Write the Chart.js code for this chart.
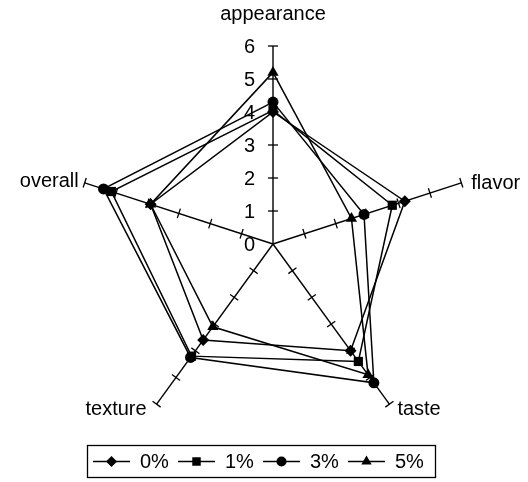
<!DOCTYPE html>
<html>
<head>
<meta charset="utf-8">
<script src="https://cdn.jsdelivr.net/npm/chart.js@4"></script>
<style>
  body { margin: 0; background: #fff; }
  canvas { display: block; }
</style>
</head>
<body>
<canvas id="radar" width="528" height="482"></canvas>
<script>
// Datos
const categories = ['appearance', 'flavor', 'taste', 'texture', 'overall'];
const seriesNames = ['0%', '1%', '3%', '5%'];
const values0 = [4.0, 4.2, 4.0, 3.6, 3.9];
const values1 = [4.05, 3.8, 4.4, 4.2, 5.15];
const values3 = [4.3, 2.9, 5.2, 4.25, 5.4];
const values5 = [5.2, 2.5, 4.9, 3.1, 3.9];
const tickLabels = ['0', '1', '2', '3', '4', '5', '6'];

const markers = ['rectRot', 'rect', 'circle', 'triangle'];
const markerSizes = [6, 6.5, 5.5, 6.5];
const FONT = '20px "Liberation Sans", Arial, sans-serif';

function makeSet(i, vals) {
  return {
    label: seriesNames[i],
    data: vals,
    borderColor: '#000',
    backgroundColor: '#000',
    borderWidth: 1.5,
    fill: false,
    pointStyle: markers[i],
    pointRadius: markerSizes[i],
    pointBackgroundColor: '#000',
    pointBorderColor: '#000',
    pointBorderWidth: 0
  };
}

// Marcas, etiquetas y leyenda dibujadas a mano
const extras = {
  id: 'extras',
  beforeDatasetsDraw(chart) {
    const s = chart.scales.r;
    const ctx = chart.ctx;
    ctx.save();
    ctx.strokeStyle = '#000';
    ctx.lineWidth = 1.3;
    for (let i = 0; i < categories.length; i++) {
      const a = s.getIndexAngle(i) - Math.PI / 2;
      const px = -Math.sin(a), py = Math.cos(a);
      for (let v = 1; v < tickLabels.length; v++) {
        const p = s.getPointPosition(i, s.getDistanceFromCenterForValue(v));
        ctx.beginPath();
        ctx.moveTo(p.x - px * 5, p.y - py * 5);
        ctx.lineTo(p.x + px * 5, p.y + py * 5);
        ctx.stroke();
      }
    }
    ctx.restore();
  },
  afterDraw(chart) {
    const s = chart.scales.r;
    const ctx = chart.ctx;
    ctx.save();
    ctx.fillStyle = '#000';
    ctx.font = FONT;
    ctx.textBaseline = 'middle';

    // valores del eje
    ctx.textAlign = 'right';
    tickLabels.forEach((t, v) => {
      ctx.fillText(t, s.xCenter - 18, s.yCenter - s.getDistanceFromCenterForValue(v) + 1);
    });

    // nombres de categorías
    const ends = categories.map((c, i) => s.getPointPosition(i, s.getDistanceFromCenterForValue(6)));
    ctx.textAlign = 'center';
    ctx.fillText(categories[0], ends[0].x, ends[0].y - 32);
    ctx.textAlign = 'left';
    ctx.fillText(categories[1], ends[1].x + 10, ends[1].y + 1);
    ctx.fillText(categories[2], ends[2].x + 8, ends[2].y + 5);
    ctx.textAlign = 'right';
    ctx.fillText(categories[3], ends[3].x - 10, ends[3].y + 5);
    ctx.fillText(categories[4], ends[4].x - 6, ends[4].y - 1);

    // leyenda
    ctx.lineWidth = 1.3;
    ctx.strokeStyle = '#000';
    ctx.strokeRect(87.5, 445.5, 348, 32);
    const ly = 461.5;
    seriesNames.forEach((n, i) => {
      const x0 = 93 + 85 * i;
      ctx.beginPath();
      ctx.moveTo(x0, ly);
      ctx.lineTo(x0 + 37, ly);
      ctx.stroke();
      Chart.helpers.drawPoint(ctx, { pointStyle: markers[i], radius: markerSizes[i] - 0.5, borderWidth: 0, rotation: 0 }, x0 + 18.5, ly);
      ctx.fillStyle = '#000';
      ctx.textAlign = 'left';
      ctx.fillText(n, x0 + 47, ly + 1);
    });
    ctx.restore();
  }
};

new Chart(document.getElementById('radar'), {
  type: 'radar',
  data: {
    labels: categories,
    datasets: [makeSet(0, values0), makeSet(1, values1), makeSet(2, values3), makeSet(3, values5)]
  },
  options: {
    responsive: false,
    animation: false,
    layout: { padding: { left: 75, right: 57, top: 46, bottom: 40 } },
    elements: { line: { tension: 0 } },
    plugins: { legend: { display: false }, tooltip: { enabled: false } },
    scales: {
      r: {
        min: 0,
        max: 6,
        ticks: { display: false, stepSize: 1 },
        grid: { display: false },
        angleLines: { display: true, color: '#000', lineWidth: 1.4 },
        pointLabels: { display: false }
      }
    }
  },
  plugins: [extras]
});
</script>
</body>
</html>
